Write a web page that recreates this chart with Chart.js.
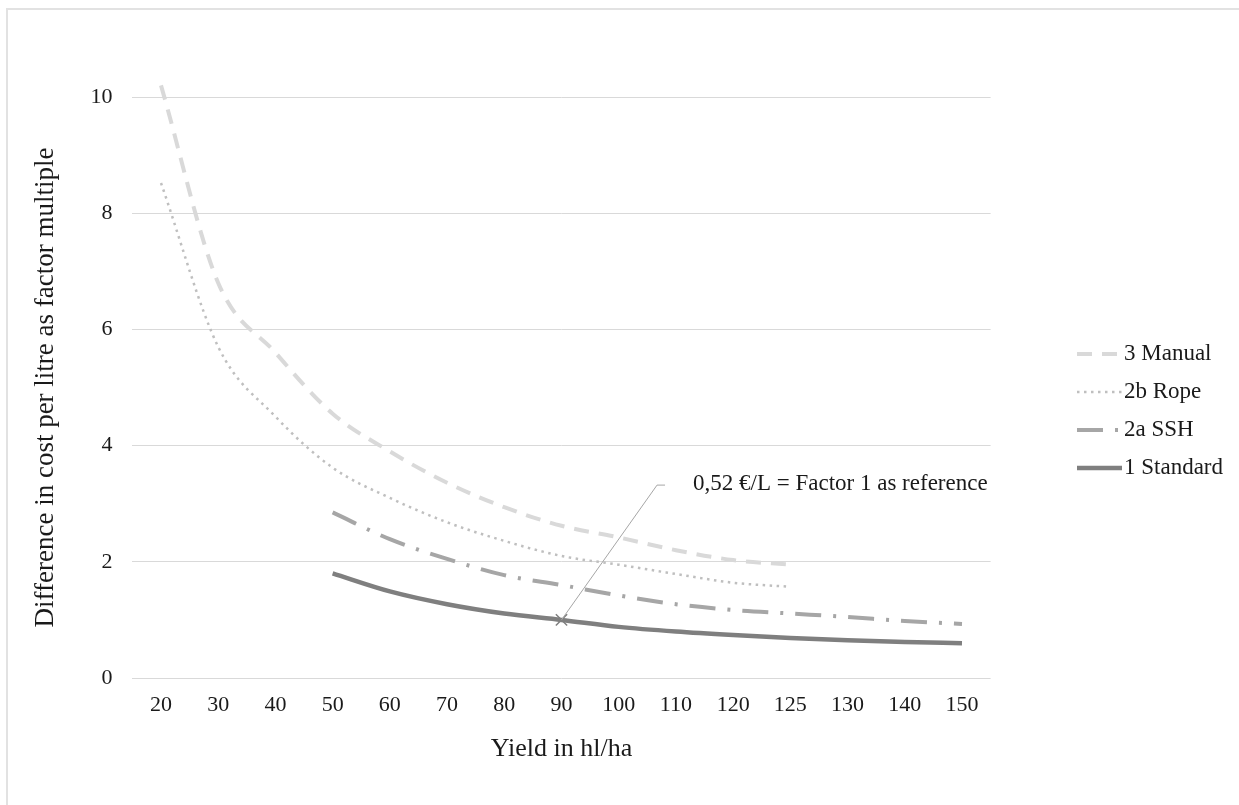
<!DOCTYPE html>
<html><head><meta charset="utf-8">
<script src="https://cdn.jsdelivr.net/npm/chart.js@4.4.1/dist/chart.umd.min.js"></script>
<style>html,body{margin:0;padding:0;background:#fff;}canvas{display:block;}</style>
</head><body>
<canvas id="c" width="1239" height="805"></canvas>
<script>
// ---- data ----
const yields = ['20','30','40','50','60','70','80','90','100','110','120','125','130','140','150'];
const manual   = [10.2, 6.8, 5.6, 4.55, 3.9, 3.36, 2.94, 2.62, 2.42, 2.2, 2.03, 1.95, null, null, null];
const rope     = [8.52, 5.7, 4.5, 3.62, 3.1, 2.68, 2.36, 2.1, 1.95, 1.79, 1.64, 1.57, null, null, null];
const ssh      = [null, null, null, 2.85, 2.39, 2.05, 1.77, 1.6, 1.42, 1.27, 1.17, 1.11, 1.05, 0.98, 0.93];
const standard = [null, null, null, 1.8, 1.49, 1.27, 1.11, 1.0, 0.88, 0.8, 0.74, 0.69, 0.65, 0.62, 0.6];
const seriesNames = ['3 Manual', '2b Rope', '2a SSH', '1 Standard'];
const yTicks = [0, 2, 4, 6, 8, 10];
const refPoint = { x: '90', y: 1.0, label: '0,52 €/L = Factor 1 as reference', labelIndex: 8.67, labelValue: 3.32 };
const xTitle = 'Yield in hl/ha';
const yTitle = 'Difference in cost per litre as factor multiple';

const FONT = "'Liberation Serif', 'Times New Roman', serif";
const TXT = '#1a1a1a';

const styles = [
  { color: '#d9d9d9', width: 4,   dash: [15, 10] },
  { color: '#bfbfbf', width: 2.5, dash: [2.5, 4.5] },
  { color: '#a6a6a6', width: 4,   dash: [26, 12, 3, 12] },
  { color: '#7f7f7f', width: 4.5, dash: [] }
];
const seriesData = [manual, rope, ssh, standard];

const datasets = seriesData.map((d, i) => ({
  label: seriesNames[i],
  data: d,
  borderColor: styles[i].color,
  borderWidth: styles[i].width,
  borderDash: styles[i].dash,
  borderCapStyle: 'butt',
  pointRadius: 0,
  pointHoverRadius: 0,
  cubicInterpolationMode: 'monotone',
  fill: false,
  clip: false
}));
datasets.push({
  label: 'ref',
  data: yields.map(c => c === refPoint.x ? refPoint.y : null),
  showLine: false,
  pointStyle: 'crossRot',
  pointRadius: 8,
  pointBorderColor: '#7f7f7f',
  pointBorderWidth: 1.5,
  borderColor: '#7f7f7f',
  clip: false
});

const decor = {
  id: 'decor',
  beforeDraw(chart) {
    const ctx = chart.ctx;
    ctx.save();
    ctx.fillStyle = '#fff';
    ctx.fillRect(0, 0, chart.width, chart.height);
    ctx.strokeStyle = '#e2e2e2';
    ctx.lineWidth = 2;
    ctx.beginPath();
    ctx.moveTo(7, chart.height);
    ctx.lineTo(7, 9);
    ctx.lineTo(chart.width, 9);
    ctx.stroke();
    ctx.restore();
  },
  afterDatasetsDraw(chart) {
    const ctx = chart.ctx;
    const xs = chart.scales.x, ys = chart.scales.y;
    // leader line + label
    const px = xs.getPixelForValue(yields.indexOf(refPoint.x));
    const py = ys.getPixelForValue(refPoint.y);
    const lx = xs.getPixelForValue(refPoint.labelIndex);
    const ly = ys.getPixelForValue(refPoint.labelValue);
    ctx.save();
    ctx.strokeStyle = '#a6a6a6';
    ctx.lineWidth = 1;
    ctx.beginPath();
    ctx.moveTo(px, py);
    ctx.lineTo(lx, ly);
    ctx.lineTo(lx + 8, ly);
    ctx.stroke();
    ctx.fillStyle = TXT;
    ctx.font = '23px ' + FONT;
    ctx.textBaseline = 'middle';
    ctx.textAlign = 'left';
    ctx.fillText(refPoint.label, lx + 36, ly - 1);
    // legend
    const rowY = [354, 392, 430, 468];
    for (let i = 0; i < seriesNames.length; i++) {
      const s = styles[i];
      ctx.strokeStyle = s.color;
      ctx.lineWidth = s.width;
      ctx.setLineDash(s.dash);
      ctx.lineCap = 'butt';
      ctx.beginPath();
      ctx.moveTo(1077, rowY[i]);
      ctx.lineTo(1122, rowY[i]);
      ctx.stroke();
      ctx.setLineDash([]);
      ctx.fillText(seriesNames[i], 1124, rowY[i]);
    }
    ctx.restore();
  }
};

new Chart(document.getElementById('c'), {
  type: 'line',
  data: { labels: yields, datasets },
  plugins: [decor],
  options: {
    responsive: false,
    animation: false,
    devicePixelRatio: 1,
    layout: { padding: { left: 0, right: 248.4, top: 97, bottom: 0 } },
    plugins: { legend: { display: false }, tooltip: { enabled: false } },
    events: [],
    scales: {
      x: {
        type: 'category',
        offset: true,
        grid: { display: false, drawTicks: false },
        border: { display: false },
        ticks: { color: TXT, font: { family: FONT, size: 22 }, padding: 14, maxRotation: 0, autoSkip: false },
        title: { display: true, text: xTitle, color: TXT, font: { family: FONT, size: 26 }, padding: { top: 0, bottom: 40 } },
        afterFit(s) { s.height = 127; }
      },
      y: {
        min: 0, max: 10,
        afterBuildTicks(s) { s.ticks = yTicks.map(v => ({ value: v })); },
        grid: { color: '#d9d9d9', lineWidth: 1, drawTicks: false },
        border: { display: false },
        ticks: { color: TXT, font: { family: FONT, size: 22 }, padding: 20 },
        title: { display: true, text: yTitle, color: TXT, font: { family: FONT, size: 27 }, padding: { top: 30, bottom: 0 } },
        afterFit(s) { s.width = 132.4; }
      }
    }
  }
});
</script>
</body></html>
